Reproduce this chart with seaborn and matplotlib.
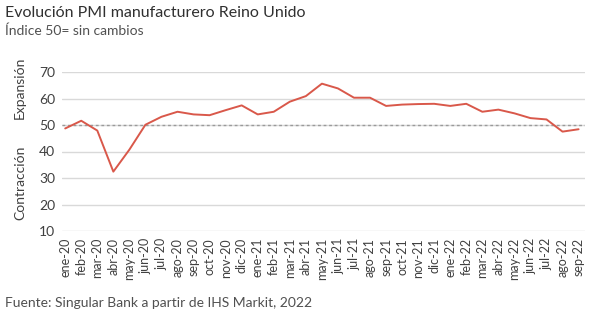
import matplotlib
matplotlib.use("Agg")
import matplotlib.pyplot as plt
import seaborn as sns
import pandas as pd

months = ["ene-20","feb-20","mar-20","abr-20","may-20","jun-20","jul-20","ago-20","sep-20","oct-20","nov-20","dic-20",
          "ene-21","feb-21","mar-21","abr-21","may-21","jun-21","jul-21","ago-21","sep-21","oct-21","nov-21","dic-21",
          "ene-22","feb-22","mar-22","abr-22","may-22","jun-22","jul-22","ago-22","sep-22"]
pmi = [48.7, 51.6, 47.9, 32.4, 40.7, 50.1, 53.1, 55.0, 54.0, 53.7, 55.6, 57.4,
       54.0, 55.0, 58.8, 60.9, 65.6, 63.8, 60.3, 60.3, 57.2, 57.7, 57.9, 58.0,
       57.2, 58.0, 55.0, 55.8, 54.4, 52.6, 52.1, 47.5, 48.4]
yticks = [10, 20, 30, 40, 50, 60, 70]
ref_level = 50

df = pd.DataFrame({"idx": range(len(months)), "mes": months, "pmi": pmi})

sns.set_theme(style="white")
plt.rcParams['font.family'] = ['Lato', 'DejaVu Sans']
text_c = "#404040"

fig = plt.figure(figsize=(6.0, 3.17), dpi=100)
ax = fig.add_axes([62/600, 1-231/317, (585-62)/600, (231-72)/317])

for t in yticks:
    ax.axhline(t, color="#d9d9d9", lw=1.0, zorder=0)
ax.axhline(ref_level, color="#9a9a9a", lw=1.0, ls=(0, (2, 2)), zorder=1)

sns.lineplot(data=df, x="idx", y="pmi", ax=ax, color="#d9584a", lw=1.4, zorder=3)

ax.set_xlim(-0.2, 32.4)
ax.set_ylim(10, 70)
ax.set_yticks(yticks)
ax.set_yticklabels([str(t) for t in yticks], fontsize=10, color=text_c)
ax.set_xticks(range(len(months)))
ax.set_xticklabels(months, rotation=90, fontsize=9, color=text_c)
ax.tick_params(axis="both", length=0, pad=5)
ax.set_xlabel("")
ax.set_ylabel("")
for s in ax.spines.values():
    s.set_visible(False)

fig.text(20/600, 1-88/317, "Expansión", rotation=90, ha="center", va="center", fontsize=10, color=text_c)
fig.text(20/600, 1-183/317, "Contracción", rotation=90, ha="center", va="center", fontsize=10, color=text_c)

fig.text(5/600, 1-13/317, "Evolución PMI manufacturero Reino Unido", fontsize=11.5, color="#303030", va="center", ha="left")
fig.text(5/600, 1-31/317, "Índice 50= sin cambios", fontsize=10, color="#505050", va="center", ha="left")
fig.text(5/600, 1-303/317, "Fuente: Singular Bank a partir de IHS Markit, 2022", fontsize=10, color="#505050", va="center", ha="left")

fig.savefig("out.png", dpi=100, facecolor="white")
